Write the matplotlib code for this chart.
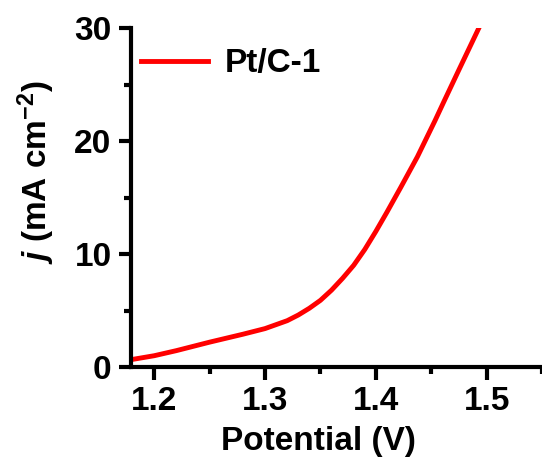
import matplotlib
matplotlib.use('Agg')
import matplotlib.pyplot as plt
from matplotlib.ticker import MultipleLocator

# values
potential = [1.179, 1.20, 1.22, 1.25, 1.28, 1.30, 1.32, 1.33, 1.34, 1.35, 1.36, 1.37,
             1.38, 1.39, 1.40, 1.41, 1.4225, 1.4375, 1.4534, 1.4615, 1.475, 1.493]
current = [0.65, 1.0, 1.45, 2.2, 2.9, 3.4, 4.1, 4.6, 5.2, 5.9, 6.8, 7.85,
           9.0, 10.4, 12.0, 13.7, 15.9, 18.6, 21.8, 23.5, 26.3, 30.0]
series_name = 'Pt/C-1'

plt.rcParams['font.family'] = ['Liberation Sans', 'DejaVu Sans']
plt.rcParams['font.weight'] = 'bold'
plt.rcParams['mathtext.fontset'] = 'custom'
plt.rcParams['mathtext.it'] = 'Liberation Sans:italic:bold'
plt.rcParams['mathtext.rm'] = 'Liberation Sans:bold'

fs = 24

fig = plt.figure(figsize=(5.42, 4.61), dpi=100)
ax = fig.add_axes([0.2417, 0.2039, 0.7583, 0.7353])

ax.plot(potential, current, color='#ff0000', lw=3.5, label=series_name)

ax.set_xlim(1.179, 1.55)
ax.set_ylim(0, 30)
ax.xaxis.set_major_locator(MultipleLocator(0.1))
ax.xaxis.set_minor_locator(MultipleLocator(0.05))
ax.yaxis.set_major_locator(MultipleLocator(10))
ax.yaxis.set_minor_locator(MultipleLocator(5))

for s in ['top', 'right']:
    ax.spines[s].set_visible(False)
for s in ['left', 'bottom']:
    ax.spines[s].set_linewidth(3)

ax.tick_params(which='major', direction='out', length=9, width=3, labelsize=fs, pad=5)
ax.tick_params(which='minor', direction='out', length=5, width=3)
for lab in ax.get_xticklabels() + ax.get_yticklabels():
    lab.set_fontweight('bold')

ax.set_xlabel('Potential (V)', fontsize=fs, fontweight='bold')
ax.xaxis.set_label_coords(0.455, -0.175)
ax.set_ylabel(r'$j$ (mA cm$^{-2}$)', fontsize=fs, fontweight='bold')
ax.yaxis.set_label_coords(-0.18, 0.575)

ax.legend(loc='upper left', bbox_to_anchor=(-0.007, 0.979), frameon=False,
          borderaxespad=0, handlelength=2.0, handletextpad=0.5,
          prop={'weight': 'bold', 'size': fs})

fig.savefig('out.png', dpi=100)
